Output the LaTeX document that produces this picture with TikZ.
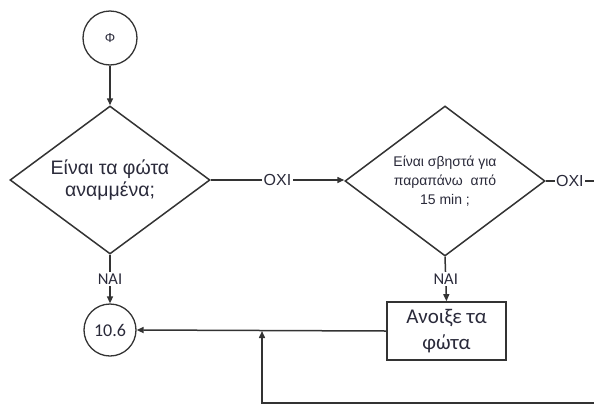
\documentclass[tikz,border=0pt]{standalone}
\usepackage{fontspec}
\setmainfont{Liberation Sans}
\newfontfamily\calfont{Carlito}
\usetikzlibrary{shapes.geometric,arrows.meta}
\definecolor{ln}{HTML}{333333}
\definecolor{tx}{HTML}{2A2A3A}
\tikzset{
  lineS/.style={draw=ln, line width=1.5pt},
  arr/.style={lineS, -{Triangle[length=7pt,width=6pt]}},
  circnode/.style={circle, draw=ln, line width=1.3pt, inner sep=0pt, text=tx},
  decnode/.style={diamond, draw=ln, line width=1.5pt, aspect=1.333, inner sep=0pt,
     minimum width=200pt, minimum height=148pt, align=center, text=tx},
  boxnode/.style={rectangle, draw=ln, line width=1.7pt, minimum width=119pt,
     minimum height=58pt, align=center, text=tx, inner sep=0pt},
  lab/.style={fill=white, inner sep=1.5pt, text=tx}
}
\begin{document}
\begin{tikzpicture}[x=1pt,y=-1pt]
\useasboundingbox[fill=white] (0,0) rectangle (594,405);

\node[circnode, minimum size=54pt, font=\fontsize{13}{15}\selectfont] (start) at (110,38) {Φ};
\node[decnode, font=\fontsize{19.5}{22}\selectfont] (d1) at (110,180) {Είναι τα φώτα\\αναμμένα;};
\node[decnode, minimum height=150pt, font=\fontsize{14}{19}\selectfont] (d2) at (445,181) {Είναι σβηστά για\\παραπάνω\ \ από\\15 min ;};
\node[boxnode, font=\calfont\fontsize{21}{26}\selectfont] (act) at (446.5,331) {Ανοιξε τα\\φώτα};
\node[circnode, minimum size=52pt, font=\calfont\fontsize{18}{20}\selectfont] (c106) at (110,330) {10.6};

\coordinate (rend) at (594,181);
\coordinate (jn) at (262,331);
\coordinate (b1) at (262,403);
\coordinate (b2) at (594,403);

\draw[arr] (start) -- (d1.north);
\draw[arr] (d1.east) -- node[lab, font=\fontsize{16}{18}\selectfont] (no1) {OXI} (d1.east -| d2.west);
\draw[lineS] (d2.east) -- node[lab, font=\fontsize{16}{18}\selectfont] (no2) {OXI} (rend);
\draw[arr] (d1.south) -- node[lab, font=\calfont\fontsize{16.5}{18}\selectfont] (yes1) {NAI} (c106.north);
\draw[arr] (d2.south) -- node[lab, font=\calfont\fontsize{16.5}{18}\selectfont] (yes2) {NAI} (act.north);
\draw[arr] (act.west) -- (c106.east);
\draw[arr] (b2) -- (b1) -- (jn);
\end{tikzpicture}
\end{document}
